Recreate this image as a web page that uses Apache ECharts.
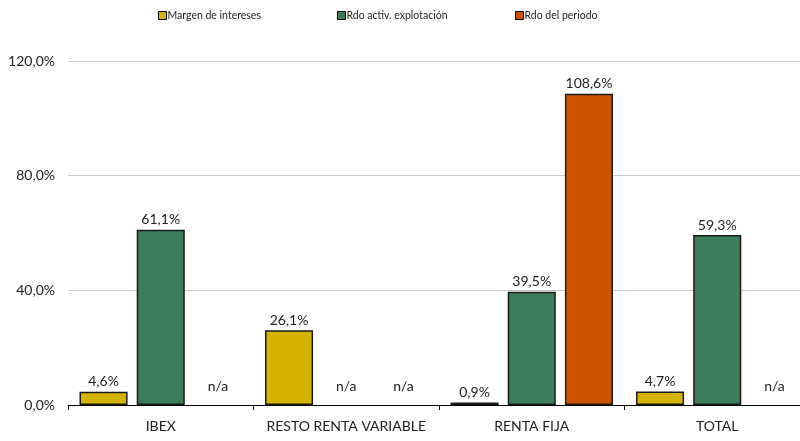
<!DOCTYPE html>
<html>
<head>
<meta charset="utf-8">
<script src="https://cdn.jsdelivr.net/npm/echarts@6/dist/echarts.min.js"></script>
<style>
  html, body { margin: 0; padding: 0; background: #fff; overflow: hidden; }
  #chart { width: 810px; height: 441px; }
</style>
</head>
<body>
<div id="chart"></div>
<script>
var categories = ["IBEX", "RESTO RENTA VARIABLE", "RENTA FIJA", "TOTAL"];
var seriesNames = ["Margen de intereses", "Rdo activ. explotación", "Rdo del periodo"];
// null = n/a
var margen = [4.6, 26.1, 0.9, 4.7];
var explotacion = [61.1, null, 39.5, 59.3];
var periodo = [null, null, 108.6, null];
var colors = ["#D4B400", "#3D7D5A", "#CE5200"];
var yTicks = [0, 40, 80, 120];
var legendLeft = [158, 337, 515];
var font = "Lato";

function fmt(v) {
    return v.toFixed(1).replace(".", ",") + "%";
}

function buildData(arr) {
    var out = [];
    for (var i = 0; i < arr.length; i++) {
        if (arr[i] === null) {
            out.push({
                value: 0,
                itemStyle: { color: "transparent", borderWidth: 0 },
                label: { formatter: "n/a", distance: 12 }
            });
        } else {
            out.push({ value: arr[i] });
        }
    }
    return out;
}

var allData = [margen, explotacion, periodo];
var series = [];
var legends = [];
for (var s = 0; s < allData.length; s++) {
    series.push({
        name: seriesNames[s],
        type: "bar",
        data: buildData(allData[s]),
        barGap: "19%",
        barCategoryGap: "12.4%",
        itemStyle: { color: colors[s], borderColor: "#1a1a1a", borderWidth: 1.5 },
        label: {
            show: true,
            position: "top",
            distance: 3,
            color: "#222",
            fontSize: 14,
            fontFamily: font,
            formatter: function (p) { return fmt(p.value); }
        }
    });
    legends.push({
        top: 10,
        left: legendLeft[s],
        padding: 0,
        itemWidth: 8,
        itemHeight: 8,
        icon: "rect",
        itemStyle: { borderColor: "#000", borderWidth: 1 },
        textStyle: { fontSize: 10.5, color: "#222", fontFamily: font, padding: [0, 0, 0, -4] },
        data: [seriesNames[s]]
    });
}

var chart = echarts.init(document.getElementById("chart"));
chart.setOption({
    animation: false,
    color: colors,
    legend: legends,
    grid: { left: 68, top: 61, right: 0, height: 344 },
    xAxis: {
        type: "category",
        data: categories,
        axisLine: { lineStyle: { color: "#000", width: 1 } },
        axisTick: { show: true, length: 5, lineStyle: { color: "#000" } },
        axisLabel: { color: "#222", fontSize: 14, fontFamily: font, margin: 14, interval: 0 }
    },
    yAxis: {
        type: "value",
        min: yTicks[0],
        max: yTicks[yTicks.length - 1],
        interval: 40,
        axisLine: { show: false },
        axisTick: { show: false },
        splitLine: { lineStyle: { color: "#c8c8c8", width: 1 } },
        axisLabel: {
            color: "#222",
            fontSize: 14,
            fontFamily: font,
            margin: 13,
            formatter: function (v) { return fmt(v); }
        }
    },
    series: series
});
</script>
</body>
</html>
